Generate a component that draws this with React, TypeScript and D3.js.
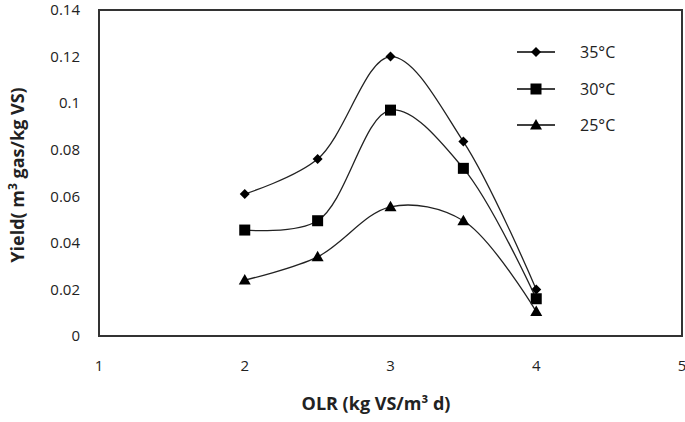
import React from "react";
import * as d3 from "d3";

const olr = [2, 2.5, 3, 3.5, 4];
const yield35 = [0.061, 0.076, 0.12, 0.0835, 0.02];
const yield30 = [0.0455, 0.0495, 0.097, 0.072, 0.016];
const yield25 = [0.024, 0.034, 0.0555, 0.0495, 0.0105];
const seriesNames = ["35°C", "30°C", "25°C"];
const xTicks = [1, 2, 3, 4, 5];
const yTicks = [0, 0.02, 0.04, 0.06, 0.08, 0.1, 0.12, 0.14];

const W = 685, H = 422;
const left = 99, right = 682, top = 10, bottom = 336;

export default function App() {
  const x = d3.scaleLinear().domain([1, 5]).range([left, right]);
  const y = d3.scaleLinear().domain([0, 0.14]).range([bottom, top]);
  const line = d3
    .line<number>()
    .x((_, i) => x(olr[i]))
    .y((d) => y(d))
    .curve(d3.curveCatmullRom.alpha(0.5));
  const series = [yield35, yield30, yield25];
  const font = "'Open Sans', 'Liberation Sans', sans-serif";
  const marker = (k: number, cx: number, cy: number, key: string) => {
    if (k === 0)
      return <path key={key} d={`M${cx},${cy - 5}L${cx + 5},${cy}L${cx},${cy + 5}L${cx - 5},${cy}Z`} fill="#000" />;
    if (k === 1) return <rect key={key} x={cx - 5.5} y={cy - 5.5} width={11} height={11} fill="#000" />;
    return <path key={key} d={`M${cx},${cy - 6}L${cx + 6},${cy + 4.5}L${cx - 6},${cy + 4.5}Z`} fill="#000" />;
  };
  const legendY = [52, 89, 125];
  return (
    <svg width={W} height={H} style={{ position: "absolute", left: 0, top: 0, background: "#fff" }} fontFamily={font}>
      <rect x={left} y={top} width={right - left} height={bottom - top} fill="none" stroke="#333" strokeWidth={2} />
      {yTicks.map((t) => (
        <text key={t} x={80} y={y(t)} dy="0.35em" textAnchor="end" fontSize={15} fill="#222">
          {t}
        </text>
      ))}
      {xTicks.map((t) => (
        <text key={t} x={x(t)} y={366} dy="0.35em" textAnchor="middle" fontSize={15} fill="#222">
          {t}
        </text>
      ))}
      {series.map((s, k) => (
        <g key={k}>
          <path d={line(s) || ""} fill="none" stroke="#222" strokeWidth={1.3} />
          {s.map((v, i) => marker(k, x(olr[i]), y(v), `${k}-${i}`))}
        </g>
      ))}
      {seriesNames.map((n, k) => (
        <g key={n}>
          <line x1={517} x2={555} y1={legendY[k]} y2={legendY[k]} stroke="#000" strokeWidth={1.5} />
          {marker(k, 536, legendY[k], `l${k}`)}
          <text x={580} y={legendY[k]} dy="0.35em" fontSize={16} fill="#222">
            {n}
          </text>
        </g>
      ))}
      <text x={376} y={410} textAnchor="middle" fontSize={18} fontWeight="bold" fill="#222">
        OLR (kg VS/m³ d)
      </text>
      <text transform={`translate(24,175) rotate(-90)`} textAnchor="middle" fontSize={18} fontWeight="bold" fill="#222">
        Yield( m<tspan dy={-7} fontSize={12}>3</tspan>
        <tspan dy={7}> gas/kg VS)</tspan>
      </text>
    </svg>
  );
}
